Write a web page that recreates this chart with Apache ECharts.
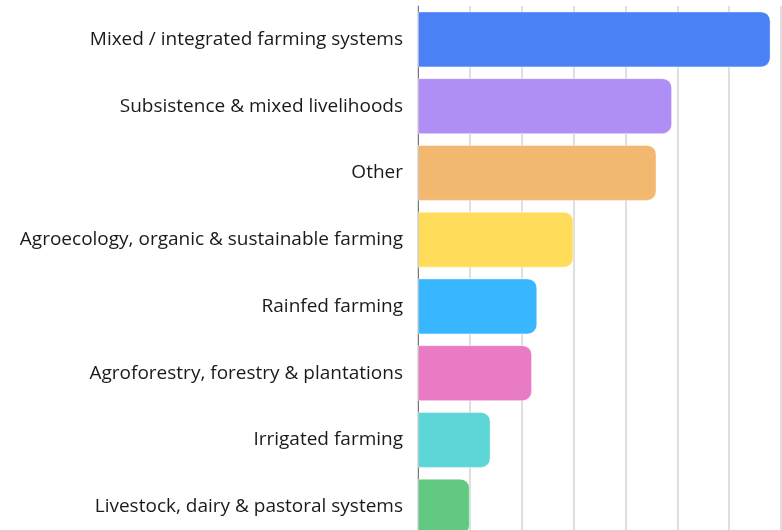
<!DOCTYPE html>
<html>
<head>
<meta charset="utf-8">
<script src="https://cdn.jsdelivr.net/npm/echarts@6/dist/echarts.min.js"></script>
<style>
  html, body { margin: 0; padding: 0; background: #fff; }
  #chart-container { width: 782px; height: 530px; }
</style>
</head>
<body>
<div id="chart-container"></div>
<script>
// 类别（从上到下）
var categories = [
    'Mixed / integrated farming systems',
    'Subsistence & mixed livelihoods',
    'Other',
    'Agroecology, organic & sustainable farming',
    'Rainfed farming',
    'Agroforestry, forestry & plantations',
    'Irrigated farming',
    'Livestock, dairy & pastoral systems'
];
var values = [68, 49, 46, 30, 23, 22, 14, 10];
var barColors = ['#4b81f7', '#af8ef5', '#f3b870', '#ffdd5a', '#38b6ff', '#e87bc4', '#5cd6d6', '#62c982'];

var container = document.getElementById('chart-container');
var myChart = echarts.init(container);

var barData = values.map(function (v, i) {
    return { value: v, itemStyle: { color: barColors[i] } };
});

myChart.setOption({
    animation: false,
    grid: {
        left: 418,
        right: 1,
        top: 6,
        height: 534,
        outerBoundsMode: 'none',
        containLabel: false
    },
    xAxis: {
        type: 'value',
        min: 0,
        max: 70,
        interval: 10,
        axisLabel: { show: false },
        axisLine: { show: false },
        axisTick: { show: false },
        splitLine: { lineStyle: { color: '#d4d4d4', width: 1.5 } }
    },
    yAxis: {
        type: 'category',
        inverse: true,
        data: categories,
        axisTick: { show: false },
        axisLine: { lineStyle: { color: '#777', width: 1 } },
        axisLabel: {
            margin: 15,
            color: '#1a1a1a',
            fontSize: 19,
            fontFamily: '"Open Sans", sans-serif'
        }
    },
    series: [
        {
            type: 'bar',
            data: barData,
            barWidth: 56,
            itemStyle: {
                borderRadius: [0, 9, 9, 0],
                borderColor: 'rgba(255,255,255,0.45)',
                borderWidth: 1
            }
        }
    ]
});
</script>
</body>
</html>
